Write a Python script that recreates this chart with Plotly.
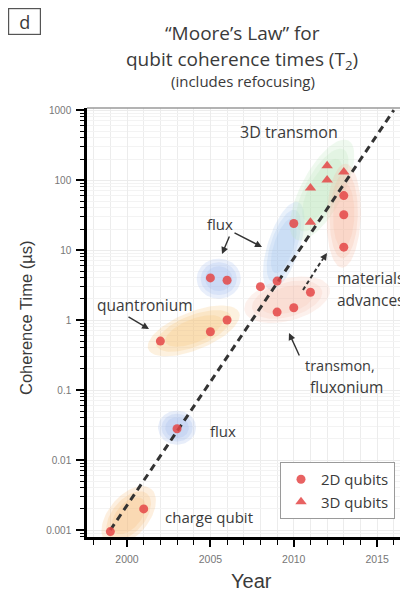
import numpy as np
import plotly.graph_objects as go

# ---------------- data ----------------
years_2d = [1999, 2001, 2003, 2002, 2005, 2006, 2005, 2006, 2008, 2009, 2009, 2010, 2010, 2011, 2013, 2013, 2013]
t2_2d = [0.00095, 0.002, 0.028, 0.5, 0.68, 1.0, 4.0, 3.7, 3.0, 3.6, 1.3, 1.5, 24, 2.5, 60, 32, 11]
years_3d = [2011, 2011, 2012, 2012, 2013]
t2_3d = [25, 77, 100, 160, 130]
trend_years = [1999, 2016]
trend_t2 = [0.001, 1000]
x_tick_vals = [2000, 2005, 2010, 2015]
y_tick_vals = [0.001, 0.01, 0.1, 1, 10, 100, 1000]
y_tick_text = ["0.001", "0.01", "0.1", "1", "10", "100", "1000"]

# shaded group regions: centre year, centre T2, semi-axes (px), angle (deg), rgb
regions = [
    ("charge qubit", 2000.1, 0.0016, 35, 20, 50, (246, 190, 120)),
    ("flux 2003", 2003.0, 0.029, 19, 17, 0, (160, 185, 235)),
    ("quantronium", 2004.0, 0.70, 49, 19, 22, (248, 195, 120)),
    ("flux 2005", 2005.5, 3.9, 22, 20, 0, (165, 190, 238)),
    ("flux 2010", 2009.4, 11.5, 46, 16, 72, (165, 195, 238)),
    ("transmon/fluxonium", 2009.6, 1.95, 44, 21, 15, (248, 195, 180)),
    ("3D transmon", 2011.7, 72, 56, 21, 62, (190, 228, 190)),
    ("materials", 2013.0, 31, 52, 17, 88, (248, 185, 160)),
]

# ---------------- layout geometry (page pixels; page body has an 8px margin) ----------------
OFF = 8
W, H = 408 - OFF, 591 - OFF
L, R, T, B = 87, 408, 108, 537
x_range = [1997.6, 2016.85]
y_range = [-3.1, 3.03]
px_per_year = (R - L) / (x_range[1] - x_range[0])
px_per_dec = (B - T) / (y_range[1] - y_range[0])


def paper(px, py):
    return (px - L) / (R - L), (B - py) / (B - T)


fig = go.Figure()

# shaded ellipses (soft edges via stacked layers)
t = np.linspace(0, 2 * np.pi, 80)
for name, cy, cv, a, b, ang, rgb in regions:
    th = np.radians(ang)
    for scale, op in [(1.0, 0.24), (0.82, 0.24), (0.62, 0.24)]:
        dx = scale * (a * np.cos(t) * np.cos(th) - b * np.sin(t) * np.sin(th))
        dy = scale * (a * np.cos(t) * np.sin(th) + b * np.sin(t) * np.cos(th))
        xs = cy + dx / px_per_year
        ys = 10 ** (np.log10(cv) + dy / px_per_dec)
        fig.add_trace(go.Scatter(
            x=xs, y=ys, mode="lines", fill="toself",
            fillcolor="rgba(%d,%d,%d,%.2f)" % (rgb + (op,)),
            line=dict(width=0), hoverinfo="skip", showlegend=False))

# trend line
fig.add_trace(go.Scatter(
    x=trend_years, y=trend_t2, mode="lines",
    line=dict(color="#333333", width=3, dash="7px,5px"),
    showlegend=False, hoverinfo="skip"))

# points
fig.add_trace(go.Scatter(
    x=years_2d, y=t2_2d, mode="markers", name="2D qubits",
    marker=dict(symbol="circle", size=9, color="rgba(228,70,70,0.85)", line=dict(width=0))))
fig.add_trace(go.Scatter(
    x=years_3d, y=t2_3d, mode="markers", name="3D qubits",
    marker=dict(symbol="triangle-up", size=10, color="rgba(228,70,70,0.85)", line=dict(width=0))))

ann = []
TXT = "#3a3a3a"
FONT = "Open Sans"


def text(px, py, s, size=15, family=FONT, **kw):
    x, y = paper(px, py)
    d = dict(x=x, y=y, xref="paper", yref="paper", text=s, showarrow=False,
             xanchor="center", yanchor="middle",
             font=dict(family=family, size=size, color=TXT))
    d.update(kw)
    ann.append(d)


def arrow(tx, ty, hx, hy):
    x, y = paper(hx, hy)
    ann.append(dict(x=x, y=y, xref="paper", yref="paper", text="", showarrow=True,
                    ax=tx - hx, ay=ty - hy, arrowhead=2, arrowsize=1, arrowwidth=1.4,
                    arrowcolor="#333333"))


# titles
text(242, 33, "\u201cMoore\u2019s Law\u201d for", 19)
text(242, 60, "qubit coherence times (T<sub>2</sub>)", 19)
text(243, 81, "(includes refocusing)", 15)
text(24.5, 21.5, "d", 18, bordercolor="#555555", borderwidth=1.2, borderpad=4,
     bgcolor="white", width=23, height=17)

# group labels
text(145, 305, "quantronium", 15.5)
text(220, 224, "flux", 15)
text(223, 431, "flux", 15)
text(209, 517, "charge qubit", 15)
text(289, 132, "3D transmon", 16)
text(370, 278, "materials", 15.5)
text(370, 300, "advances", 15.5)
text(340, 365, "transmon,", 14.5)
text(346, 387, "fluxonium", 15.5)

arrow(127, 316, 149, 329)
arrow(230, 235, 222, 254)
arrow(233, 232, 262, 247)
arrow(300, 357, 289, 333)
# dashed arrow to materials advances
x0, y0 = paper(303, 290)
x1, y1 = paper(322, 260)
fig.add_shape(type="line", xref="paper", yref="paper", x0=x0, y0=y0, x1=x1, y1=y1,
              line=dict(color="#333333", width=2, dash="4px,3px"))
arrow(321, 262, 327, 253)

# axis titles
text(26, 318, "Coherence Time (\u00b5s)", 16.5, family="Liberation Sans", textangle=-90)
text(252, 581, "Year", 20, family="Liberation Sans")

# top frame line
fig.add_shape(type="line", xref="paper", yref="paper", x0=0, y0=1, x1=1, y1=1,
              line=dict(color="#9a9a9a", width=1.5))

grid = "#ececec"
lx, ly = paper(280, 462)
fig.update_layout(
    width=W, height=H, autosize=False,
    margin=dict(l=L - OFF, r=(W + OFF) - R, t=T - OFF, b=(H + OFF) - B),
    paper_bgcolor="white", plot_bgcolor="white",
    annotations=ann,
    showlegend=True,
    legend=dict(x=lx, y=ly, xanchor="left", yanchor="top",
                bordercolor="#9a9a9a", borderwidth=1, bgcolor="white",
                font=dict(family=FONT, size=15, color=TXT),
                itemwidth=30, tracegroupgap=0),
    xaxis=dict(range=x_range, tickvals=x_tick_vals, ticktext=[str(v) for v in x_tick_vals],
               showline=True, linecolor="black", linewidth=2.5,
               ticks="outside", ticklen=7, tickwidth=1.5, tickcolor="black",
               ticklabelstandoff=4,
               tickfont=dict(family="Liberation Sans", size=10.5, color="#777777"),
               showgrid=True, gridcolor=grid, gridwidth=1, zeroline=False,
               minor=dict(dtick=1, ticks="outside", ticklen=5, tickwidth=1.2,
                          tickcolor="black", showgrid=True, gridcolor=grid)),
    yaxis=dict(type="log", range=y_range, tickvals=y_tick_vals, ticktext=y_tick_text,
               showline=True, linecolor="black", linewidth=2.5,
               ticks="outside", ticklen=8, tickwidth=1.5, tickcolor="black",
               ticklabelstandoff=3,
               tickfont=dict(family="Liberation Sans", size=10, color="#777777"),
               showgrid=True, gridcolor=grid, gridwidth=1, zeroline=False,
               minor=dict(dtick="D1", ticks="outside", ticklen=4, tickwidth=1.2,
                          tickcolor="black", showgrid=True, gridcolor="#f3f3f3")),
)

fig.write_html("out.html")
